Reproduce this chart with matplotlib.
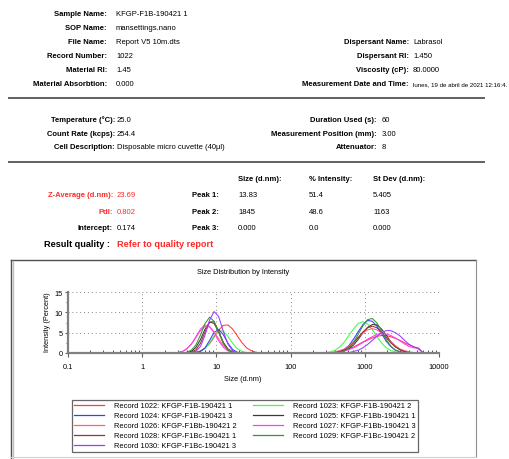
import matplotlib.pyplot as plt
import matplotlib.lines as mlines
from matplotlib.ticker import FixedLocator, NullFormatter

plt.rcParams['font.family'] = ['Liberation Sans', 'DejaVu Sans']

# ---- report header text ----
info_left = [("Sample Name:", "KFGP-F1B-190421 1"),
             ("SOP Name:", "mansettings.nano"),
             ("File Name:", "Report V5 10m.dts"),
             ("Record Number:", "1022"),
             ("Material RI:", "1.45"),
             ("Material Absorbtion:", "0.000")]
info_right = [("Dispersant Name:", "Labrasol"),
              ("Dispersant RI:", "1.450"),
              ("Viscosity (cP):", "80.0000"),
              ("Measurement Date and Time:", "lunes, 19 de abril de 2021 12:16:4.")]
meas_left = [("Temperature (°C):", "25.0"),
             ("Count Rate (kcps):", "254.4"),
             ("Cell Description:", "Disposable micro cuvette (40µl)")]
meas_right = [("Duration Used (s):", "60"),
              ("Measurement Position (mm):", "3.00"),
              ("Attenuator:", "8")]
result_left = [("Z-Average (d.nm):", "23.69"),
               ("PdI:", "0.802"),
               ("Intercept:", "0.174")]
peak_cols = ["Size (d.nm):", "% Intensity:", "St Dev (d.nm):"]
peak_names = ["Peak 1:", "Peak 2:", "Peak 3:"]
peak_size = ["13.83", "1845", "0.000"]
peak_int = ["51.4", "48.6", "0.0"]
peak_sd = ["5.405", "1163", "0.000"]

# ---- size distribution data ----
records = ["Record 1022: KFGP-F1B-190421 1", "Record 1023: KFGP-F1B-190421 2",
           "Record 1024: KFGP-F1B-190421 3", "Record 1025: KFGP-F1Bb-190421 1",
           "Record 1026: KFGP-F1Bb-190421 2", "Record 1027: KFGP-F1Bb-190421 3",
           "Record 1028: KFGP-F1Bc-190421 1", "Record 1029: KFGP-F1Bc-190421 2",
           "Record 1030: KFGP-F1Bc-190421 3"]
colors = ["#ff3b3b", "#3bff3b", "#3b3bff", "#3a3a3a", "#ff5c8a",
          "#ff3bff", "#9b3030", "#2f9a2f", "#9a3bff"]

sizes_start = [0.4, 2.5]
sizes_p1 = [3.0, 3.5, 4.0, 4.6, 5.3, 6.1, 7.0, 8.1, 9.3, 10.7, 12.4, 14.3,
            16.5, 19.0, 22.0, 25.4, 29.3, 33.8, 39.0]
sizes_mid = [45, 250]
sizes_p2 = [300, 350, 400, 460, 530, 615, 710, 820, 945, 1090, 1260, 1455,
            1680, 1940, 2240, 2580, 2980, 3440, 3970, 4590, 5300, 6120, 7000]
sizes_end = [10000]

peak1_vals = [
    [0, 0, 0, 0.1, 0.2, 0.5, 1.2, 2.3, 3.9, 5.6, 6.8, 6.9, 5.9, 4.3, 2.6, 1.3, 0.6, 0.2, 0],
    [0, 0, 0, 0, 0.1, 0.4, 1.1, 2.5, 4.2, 5.4, 5.4, 4.1, 2.4, 1.1, 0.4, 0.1, 0, 0, 0],
    [0, 0, 0, 0, 0.1, 0.4, 1.2, 3.1, 5.0, 5.8, 4.5, 2.4, 0.9, 0.2, 0, 0, 0, 0, 0],
    [0, 0, 0.1, 0.4, 1.4, 3.3, 5.8, 7.6, 7.3, 5.2, 2.6, 1.0, 0.3, 0, 0, 0, 0, 0, 0],
    [0.1, 0.4, 1.1, 2.2, 3.8, 5.5, 6.5, 6.4, 5.2, 3.5, 1.8, 0.8, 0.3, 0.1, 0, 0, 0, 0, 0],
    [0.1, 0.4, 1.0, 2.2, 4.0, 5.9, 6.9, 6.5, 5.0, 3.0, 1.4, 0.5, 0.2, 0, 0, 0, 0, 0, 0],
    [0, 0, 0, 0.2, 0.8, 2.4, 5.1, 7.6, 7.7, 5.4, 2.5, 0.8, 0.2, 0, 0, 0, 0, 0, 0],
    [0, 0, 0.2, 0.7, 2.0, 4.4, 7.2, 8.8, 7.8, 5.1, 2.3, 0.8, 0.2, 0, 0, 0, 0, 0, 0],
    [0, 0, 0, 0, 0.4, 1.6, 4.3, 8.1, 10.2, 9.0, 5.3, 2.2, 0.6, 0.1, 0, 0, 0, 0, 0],
]
peak2_vals = [
    [0, 0, 0.2, 0.5, 0.7, 1.1, 1.5, 2.1, 2.7, 3.2, 3.7, 4.1, 4.3, 4.3, 4.0, 3.6, 3.1, 2.5, 2.0, 1.5, 1.0, 0, 0],
    [0.1, 0.3, 0.7, 1.5, 2.7, 4.4, 6.0, 7.3, 7.7, 7.1, 5.8, 4.0, 2.5, 1.3, 0.6, 0.3, 0.1, 0, 0, 0, 0, 0, 0],
    [0, 0, 0.1, 0.4, 0.9, 1.9, 3.5, 5.3, 7.0, 8.0, 7.8, 6.6, 4.8, 2.9, 1.6, 0.7, 0.3, 0.1, 0, 0, 0, 0, 0],
    [0, 0, 0.1, 0.2, 0.5, 1.1, 2.0, 3.4, 5.0, 6.3, 7.0, 6.9, 5.9, 4.4, 2.8, 1.6, 0.8, 0.4, 0.1, 0, 0, 0, 0],
    [0, 0.1, 0.3, 0.6, 1.0, 1.8, 2.8, 3.9, 4.9, 5.7, 6.0, 5.7, 4.9, 3.9, 2.8, 1.8, 1.0, 0.6, 0.3, 0.1, 0, 0, 0],
    [0, 0, 0, 0.3, 0.5, 0.8, 1.3, 1.9, 2.6, 3.4, 4.0, 4.6, 4.8, 4.7, 4.3, 3.7, 3.0, 2.2, 1.6, 1.3, 1.1, 0, 0],
    [0, 0, 0.1, 0.3, 0.7, 1.5, 2.5, 3.9, 5.2, 6.2, 6.6, 6.2, 5.2, 3.8, 2.5, 1.5, 0.8, 0.3, 0.1, 0, 0, 0, 0],
    [0, 0, 0.1, 0.2, 0.5, 1.3, 2.7, 4.7, 6.7, 8.2, 8.5, 7.4, 5.4, 3.3, 1.7, 0.7, 0.3, 0.1, 0, 0, 0, 0, 0],
    [0, 0, 0, 0, 0, 0.1, 0.4, 0.7, 1.3, 2.1, 3.1, 4.1, 5.0, 5.5, 5.5, 5.0, 4.2, 3.1, 2.1, 1.5, 1.2, 0, 0],
]

W, H = 509, 460
RED = "#ff2a2a"
FS = 5.5

fig = plt.figure(figsize=(W / 100, H / 100), dpi=100)


def ptext(x, y, s, **kw):
    # place text using pixel coords of the reference image
    fig.text(x / W, 1 - y / H, s, va="center", **kw)


def pline(xs, ys, **kw):
    fig.add_artist(mlines.Line2D([x / W for x in xs], [1 - y / H for y in ys], **kw))


# header block 1
for i, (lab, val) in enumerate(info_left):
    y = 15 + i * 13.8
    ptext(107, y, lab, ha="right", fontsize=FS, fontweight="bold")
    ptext(116, y, val, ha="left", fontsize=FS)
for i, (lab, val) in enumerate(info_right):
    y = 43 + i * 13.8
    ptext(409, y, lab, ha="right", fontsize=FS, fontweight="bold")
    # the date string is squeezed into the remaining width
    ptext(413, y, val, ha="left", fontsize=FS if i < 3 else 4.4)
pline([9, 484], [99, 99], color="#606060", lw=1.4)

# header block 2
for i, (lab, val) in enumerate(meas_left):
    y = 120 + i * 14
    ptext(115, y, lab, ha="right", fontsize=FS, fontweight="bold")
    ptext(117, y, val, ha="left", fontsize=FS)
for i, (lab, val) in enumerate(meas_right):
    y = 120 + i * 14
    ptext(377, y, lab, ha="right", fontsize=FS, fontweight="bold")
    ptext(382, y, val, ha="left", fontsize=FS)
pline([9, 484], [163, 163], color="#606060", lw=1.4)

# results block
col_x = [238, 309, 373]
for cx, lab in zip(col_x, peak_cols):
    ptext(cx, 180, lab, ha="left", fontsize=FS, fontweight="bold")
for i in range(3):
    y = 196 + i * 16.5
    lab, val = result_left[i]
    c = RED if i < 2 else "black"
    ptext(113, y, lab, ha="right", fontsize=FS, fontweight="bold", color=c)
    ptext(117, y, val, ha="left", fontsize=FS, color=c)
    ptext(219, y, peak_names[i], ha="right", fontsize=FS, fontweight="bold")
    ptext(col_x[0], y, peak_size[i], ha="left", fontsize=FS)
    ptext(col_x[1], y, peak_int[i], ha="left", fontsize=FS)
    ptext(col_x[2], y, peak_sd[i], ha="left", fontsize=FS)
ptext(110, 245, "Result quality :", ha="right", fontsize=6.6, fontweight="bold")
ptext(117, 245, "Refer to quality report", ha="left", fontsize=6.6,
      fontweight="bold", color=RED)

# chart frame
pline([11, 476], [261, 261], color="#505050", lw=1.0)
pline([11, 11], [261, 460], color="#505050", lw=1.0)
pline([12.5, 12.5], [262, 460], color="#c0c0c0", lw=1.0)
pline([476, 476], [261, 458], color="#909090", lw=0.8)
pline([11, 476], [458, 458], color="#d0d0d0", lw=0.8)

ptext(243, 273, "Size Distribution by Intensity", ha="center", fontsize=5.3)

# plot
ax = fig.add_axes([68 / W, 1 - 354 / H, (439 - 68) / W, 61 / H])
xs = sizes_start + sizes_p1 + sizes_mid + sizes_p2 + sizes_end
handles = []
for lab, col, v1, v2 in zip(records, colors, peak1_vals, peak2_vals):
    ys = [0] * len(sizes_start) + v1 + [0] * len(sizes_mid) + v2 + [0] * len(sizes_end)
    ln, = ax.plot(xs, ys, color=col, lw=0.75, label=lab, clip_on=False)
    handles.append(ln)

ax.set_xscale("log")
ax.set_xlim(0.1, 10000)
ax.set_ylim(0, 15)
ax.xaxis.set_major_locator(FixedLocator([0.1, 1, 10, 100, 1000, 10000]))
ax.set_xticklabels(["0.1", "1", "10", "100", "1000", "10000"])
minors = [m * d for d in [0.1, 1, 10, 100, 1000] for m in range(2, 10)]
ax.xaxis.set_minor_locator(FixedLocator(minors))
ax.xaxis.set_minor_formatter(NullFormatter())
ax.yaxis.set_major_locator(FixedLocator([0, 5, 10, 15]))
ax.yaxis.set_minor_locator(FixedLocator([2.5, 7.5, 12.5]))
ax.tick_params(axis="both", which="major", labelsize=5.3, colors="#606060",
               labelcolor="black", width=0.8)
ax.tick_params(axis="x", which="major", length=3, pad=4)
ax.tick_params(axis="y", which="major", length=2.5, pad=1.5)
ax.tick_params(axis="x", which="minor", direction="in", length=2.5, width=0.7, colors="#505050")
ax.tick_params(axis="y", which="minor", direction="out", length=1.5, width=0.7, colors="#606060")
for s in ["top", "right"]:
    ax.spines[s].set_visible(False)
for s in ["left", "bottom"]:
    ax.spines[s].set_color("#808080")
    ax.spines[s].set_linewidth(1.6)
ax.grid(True, which="major", color="#8a8a8a", lw=0.7, linestyle=(0, (1, 3)))
ax.set_axisbelow(True)

ax.set_ylabel("Intensity (Percent)", fontsize=5.3)
ax.yaxis.set_label_coords(-0.046, 0.52)
ax.set_xlabel("Size (d.nm)", fontsize=5.3)
ax.xaxis.set_label_coords(0.472, -0.41)
ax.xaxis.label.set_verticalalignment("center")

order = [0, 2, 4, 6, 8, 1, 3, 5, 7]
leg = fig.legend([handles[i] for i in order], [records[i] for i in order],
                 loc="upper left", bbox_to_anchor=(72 / W, 1 - 401 / H),
                 ncol=2, fontsize=5.4, frameon=True, fancybox=False,
                 edgecolor="#404040", borderpad=0.3, handlelength=4.0,
                 handletextpad=1.3, labelspacing=0.36, columnspacing=2.2,
                 borderaxespad=0)
leg.get_frame().set_linewidth(0.9)
for h in leg.legend_handles:
    h.set_linewidth(0.9)

fig.savefig("out.png", dpi=100)
